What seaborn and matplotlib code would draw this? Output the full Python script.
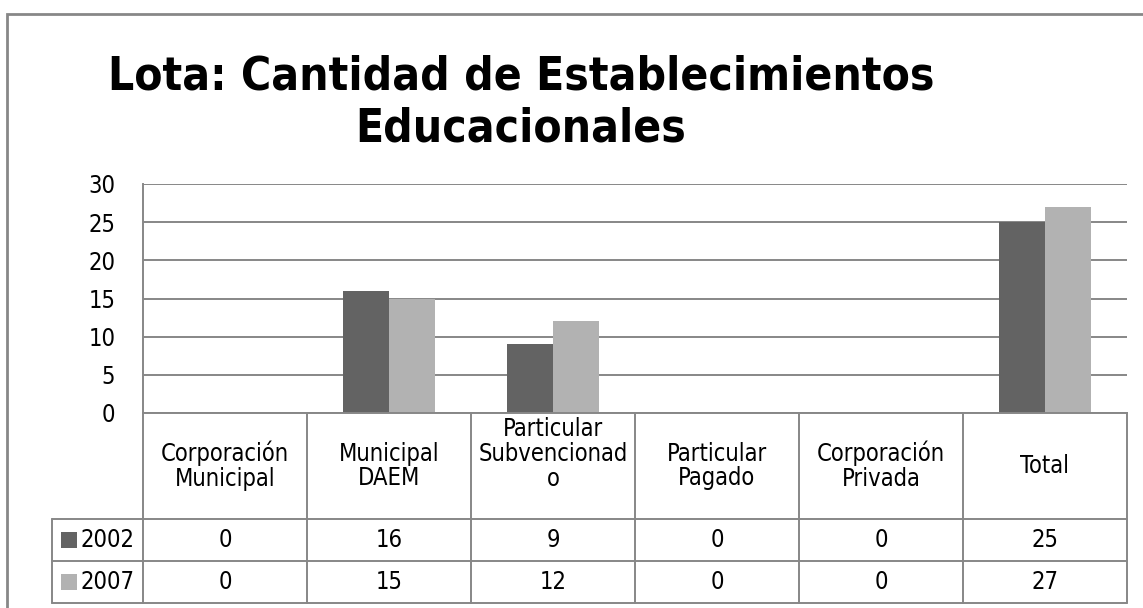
import numpy as np
import pandas as pd
import seaborn as sns
import matplotlib.pyplot as plt
from matplotlib.patches import Rectangle
from matplotlib.lines import Line2D
import matplotlib.transforms as mtransforms

# data
categories = ['Corporación\nMunicipal', 'Municipal\nDAEM', 'Particular\nSubvencionad\no',
              'Particular\nPagado', 'Corporación\nPrivada', 'Total']
years = ['2002', '2007']
vals_2002 = [0, 16, 9, 0, 0, 25]
vals_2007 = [0, 15, 12, 0, 0, 27]
colors = ['#636363', '#b2b2b2']
grid_c = '#878787'

df = pd.DataFrame({'cat': categories * 2,
                   'year': [years[0]] * 6 + [years[1]] * 6,
                   'val': vals_2002 + vals_2007})

sns.set_style('white')
plt.rcParams['font.family'] = ['DejaVu Sans']
plt.rcParams['font.stretch'] = 'condensed'
plt.rcParams['text.color'] = 'black'

W, H = 1143, 608
fig = plt.figure(figsize=(W / 100, H / 100), dpi=100)
# plot area: x 143..1127 px, y 184..413 px
ax = fig.add_axes([143 / W, (H - 413) / H, (1127 - 143) / W, (413 - 184) / H])

sns.barplot(data=df, x='cat', y='val', hue='year', palette=colors, width=0.56,
            ax=ax, legend=False, edgecolor='none', saturation=1)

ax.set_ylim(0, 30)
ax.set_xlim(-0.5, len(categories) - 0.5)
ax.set_yticks(range(0, 31, 5))
ax.yaxis.grid(True, color=grid_c, lw=1.4)
ax.set_axisbelow(True)
ax.set_xticks([])
ax.set_xlabel('')
ax.set_ylabel('')
ax.tick_params(axis='y', length=0, pad=20, labelsize=17, labelcolor='black')
for s in ['top', 'right']:
    ax.spines[s].set_visible(False)
for s in ['left', 'bottom']:
    ax.spines[s].set_color(grid_c)
    ax.spines[s].set_linewidth(1.4)

# data table under the plot
tr = mtransforms.blended_transform_factory(ax.transData, ax.transAxes)
ph = 413 - 184
y_head = -(519 - 413) / ph
y_r1 = -(561 - 413) / ph
y_r2 = -(603 - 413) / ph
colw = (1127 - 143) / len(categories)
x_lab = -0.5 - (143 - 52) / colw
x0, x1 = -0.5, len(categories) - 0.5

def hline(xa, xb, y):
    ax.add_line(Line2D([xa, xb], [y, y], transform=tr, color=grid_c, lw=1.4, clip_on=False))

def vline(x, ya, yb):
    ax.add_line(Line2D([x, x], [ya, yb], transform=tr, color=grid_c, lw=1.4, clip_on=False))

for y in [y_head, y_r1, y_r2]:
    hline(x_lab, x1, y)
for i in range(len(categories) + 1):
    vline(x0 + i, 0, y_r2)
vline(x_lab, y_head, y_r2)

for i, c in enumerate(categories):
    # the 3-line header sits a bit higher in the original
    yc = y_head / 2 + (12 / ph if c.count('\n') == 2 else 0)
    ax.text(i, yc, c, transform=tr, ha='center', va='center',
            fontsize=17, linespacing=1.05)
    ax.text(i, (y_head + y_r1) / 2, str(vals_2002[i]), transform=tr,
            ha='center', va='center', fontsize=17)
    ax.text(i, (y_r1 + y_r2) / 2, str(vals_2007[i]), transform=tr,
            ha='center', va='center', fontsize=17)

sq = 16 / ph
for j, (yr, yc) in enumerate(zip(years, [(y_head + y_r1) / 2, (y_r1 + y_r2) / 2])):
    ax.add_patch(Rectangle((x_lab + 9 / colw, yc - sq / 2), 16 / colw, sq, transform=tr,
                           facecolor=colors[j], edgecolor='none', clip_on=False))
    ax.text(x0 - 8 / colw, yc, yr, transform=tr, ha='right', va='center', fontsize=17)

fig.text(521 / W, 1 - 103 / H, 'Lota: Cantidad de Establecimientos\nEducacionales',
         ha='center', va='center', fontsize=33, fontweight='bold', linespacing=1.2)

# outer chart border
fig.patches.append(Rectangle((7 / W, -0.1), 1.2, (H - 14) / H + 0.1, transform=fig.transFigure,
                             facecolor='none', edgecolor=grid_c, lw=2))

fig.savefig('out.png', dpi=100)
